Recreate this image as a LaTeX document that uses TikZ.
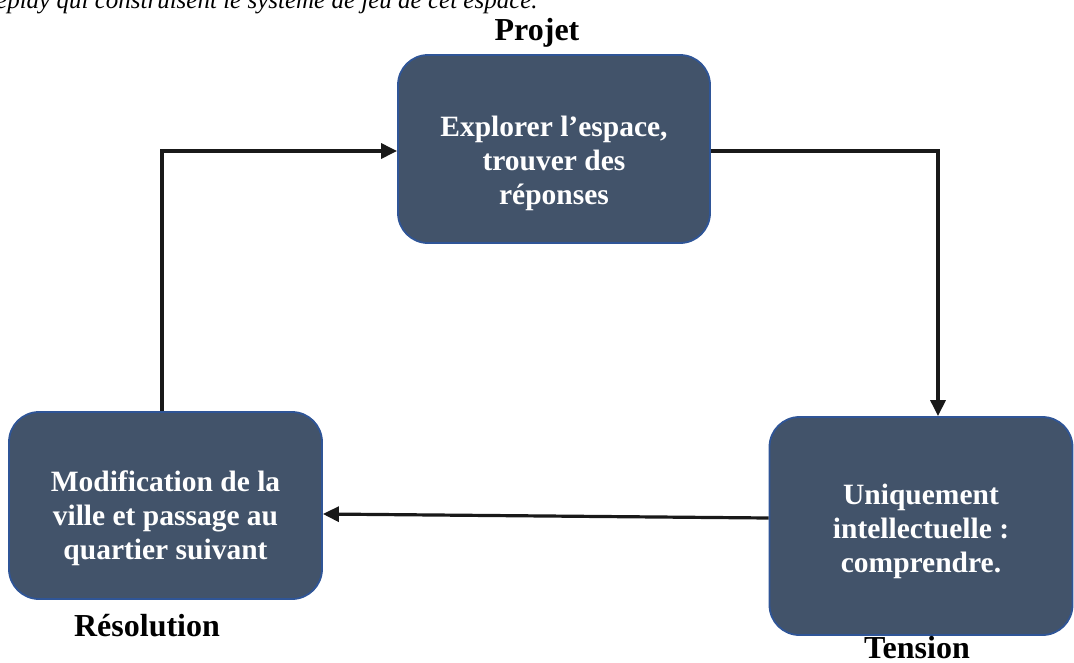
\documentclass[tikz,border=0pt]{standalone}
\usepackage{fontspec}
\setmainfont{Liberation Serif}
\usetikzlibrary{arrows.meta}
\definecolor{boxfill}{HTML}{42536A}
\definecolor{boxline}{HTML}{2F5597}
\tikzset{
  stagebox/.style={draw=boxline, line width=1.8pt, fill=boxfill, rounded corners=30pt, inner sep=0pt},
  stagetext/.style={text=white, font=\bfseries\fontsize{29.5}{34}\selectfont, align=center, inner sep=0pt},
  phase/.style={font=\bfseries\fontsize{32}{36}\selectfont, text=black, anchor=base, inner sep=0pt},
  flow/.style={line width=3.2pt, draw=black!90, -{Triangle[length=16pt,width=15pt]}}
}
\begin{document}
\begin{tikzpicture}[x=1pt,y=-1pt]
\useasboundingbox (0,0) rectangle (1074,662);
\node[anchor=base west, inner sep=0pt, font=\itshape\fontsize{25}{30}\selectfont] (intro) at (-4,8) {eplay qui construisent le système de jeu de cet espace.};
\node[stagebox, minimum width=312pt, minimum height=188pt] (top) at (554,149) {};
\node[stagebox, minimum width=313pt, minimum height=187pt] (left) at (165.5,505.5) {};
\node[stagebox, minimum width=303pt, minimum height=218pt] (right) at (921,526) {};
\node[stagetext] (toptext) at ([yshift=-14pt]top.center) {Explorer l’espace,\\trouver des\\réponses};
\node[stagetext] (lefttext) at ([yshift=-13pt]left.center) {Modification de la\\ville et passage au\\quartier suivant};
\node[stagetext] (righttext) at ([yshift=-5pt]right.center) {Uniquement\\intellectuelle :\\comprendre.};
\node[phase] (projet) at (537,40) {Projet};
\node[phase] (resol) at (147,636) {Résolution};
\node[phase] (tens) at (917,658) {Tension};
\draw[flow] ([xshift=-3.5pt]left.north) |- ([yshift=-2pt]top.west);
\draw[flow] ([yshift=-2pt]top.east) -| ([xshift=17pt]right.north);
\draw[flow] ([yshift=8pt]right.west) -- ([yshift=-8.5pt]left.east);
\end{tikzpicture}
\end{document}
